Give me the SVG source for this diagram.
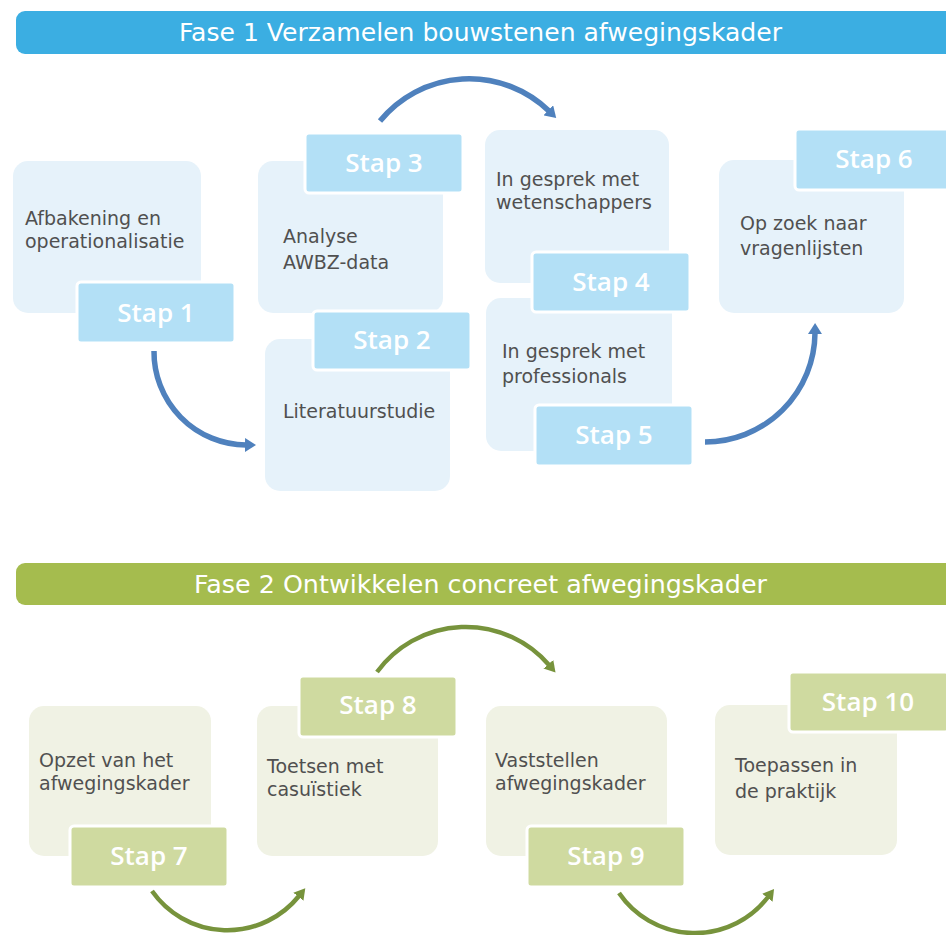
<svg xmlns="http://www.w3.org/2000/svg" width="946" height="935" viewBox="0 0 946 935">
<defs>
<style>
.hdr{font-family:"DejaVu Sans",Verdana,sans-serif;font-size:24px;fill:#ffffff;}
.body{font-family:"DejaVu Sans",Verdana,sans-serif;font-size:19px;fill:#505050;}
.lbl{font-family:"Open Sans","Liberation Sans",sans-serif;font-size:26px;font-weight:600;fill:#ffffff;text-anchor:middle;}
.b1{fill:#E6F2FA;}
.l1{fill:#B3E0F6;stroke:#ffffff;stroke-width:3;}
.b2{fill:#F0F2E4;}
.l2{fill:#CFDAA0;stroke:#ffffff;stroke-width:3;}
.a1{fill:none;stroke:#4F81BD;stroke-width:5.5;}
.a2{fill:none;stroke:#77933C;stroke-width:4.5;}
</style>
<marker id="hb" viewBox="0 0 11 14" markerWidth="11" markerHeight="14" markerUnits="userSpaceOnUse" refX="1" refY="7" orient="auto">
<path d="M0,0 L11,7 L0,14 z" fill="#4F81BD"/>
</marker>
<marker id="hg" viewBox="0 0 11 13" markerWidth="11" markerHeight="13" markerUnits="userSpaceOnUse" refX="1" refY="6.5" orient="auto">
<path d="M0,0 L11,6.5 L0,13 z" fill="#77933C"/>
</marker>
</defs>
<rect width="946" height="935" fill="#ffffff"/>

<g id="fase1">
<rect x="16" y="11" width="945" height="43" rx="9" fill="#3BAEE2"/>
<text class="hdr" x="179" y="41" textLength="603" lengthAdjust="spacingAndGlyphs">Fase 1 Verzamelen bouwstenen afwegingskader</text>
</g>
<g id="fase2">
<rect x="16" y="563" width="945" height="42" rx="9" fill="#A5BC4E"/>
<text class="hdr" x="194" y="593" textLength="573" lengthAdjust="spacingAndGlyphs">Fase 2 Ontwikkelen concreet afwegingskader</text>
</g>

<g id="connectors">
<path class="a1" d="M154,351 A93,93 0 0 0 246,445" marker-end="url(#hb)"/>
<path class="a1" d="M380,121 A115,115 0 0 1 549,111" marker-end="url(#hb)"/>
<path class="a1" d="M705,442 A110,110 0 0 0 815,333" marker-end="url(#hb)"/>
<path class="a2" d="M152,891 A92,92 0 0 0 299,896" marker-end="url(#hg)"/>
<path class="a2" d="M377,672 A110,110 0 0 1 549,665" marker-end="url(#hg)"/>
<path class="a2" d="M619,893 A92,92 0 0 0 768,897" marker-end="url(#hg)"/>
</g>

<g id="stap1">
<rect class="b1" x="13" y="161" width="188" height="152" rx="15"/>
<text class="body" x="25" y="225">Afbakening en</text>
<text class="body" x="25" y="248">operationalisatie</text>
<rect class="l1" x="77" y="282" width="158" height="61" rx="4"/>
<text class="lbl" x="156" y="322">Stap 1</text>
</g>

<g id="stap3">
<rect class="b1" x="258" y="161" width="185" height="152" rx="15"/>
<text class="body" x="283" y="243">Analyse</text>
<text class="body" x="283" y="269">AWBZ-data</text>
<rect class="l1" x="305" y="133" width="158" height="60" rx="4"/>
<text class="lbl" x="384" y="172">Stap 3</text>
</g>

<g id="stap2">
<rect class="b1" x="265" y="339" width="185" height="152" rx="15"/>
<text class="body" x="283" y="418">Literatuurstudie</text>
<rect class="l1" x="313" y="311" width="158" height="59" rx="4"/>
<text class="lbl" x="392" y="349">Stap 2</text>
</g>

<g id="stap4">
<rect class="b1" x="485" y="130" width="184" height="153" rx="15"/>
<text class="body" x="496" y="186">In gesprek met</text>
<text class="body" x="496" y="209">wetenschappers</text>
</g>

<g id="stap5">
<rect class="b1" x="486" y="298" width="186" height="153" rx="15"/>
<text class="body" x="502" y="358">In gesprek met</text>
<text class="body" x="502" y="383">professionals</text>
<rect class="l1" x="535" y="405" width="158" height="61" rx="4"/>
<text class="lbl" x="614" y="444">Stap 5</text>
</g>

<g id="stap4-label">
<rect class="l1" x="532" y="252" width="158" height="60" rx="4"/>
<text class="lbl" x="611" y="291">Stap 4</text>
</g>

<g id="stap6">
<rect class="b1" x="719" y="160" width="185" height="153" rx="15"/>
<text class="body" x="740" y="230">Op zoek naar</text>
<text class="body" x="740" y="255">vragenlijsten</text>
<rect class="l1" x="795" y="129" width="160" height="61" rx="4"/>
<text class="lbl" x="874" y="168">Stap 6</text>
</g>

<g id="stap7">
<rect class="b2" x="29" y="706" width="182" height="150" rx="15"/>
<text class="body" x="39" y="767">Opzet van het</text>
<text class="body" x="39" y="790">afwegingskader</text>
<rect class="l2" x="70" y="826" width="158" height="61" rx="4"/>
<text class="lbl" x="149" y="865">Stap 7</text>
</g>

<g id="stap8">
<rect class="b2" x="257" y="706" width="181" height="150" rx="15"/>
<text class="body" x="267" y="773">Toetsen met</text>
<text class="body" x="267" y="796">casuïstiek</text>
<rect class="l2" x="299" y="676" width="158" height="61" rx="4"/>
<text class="lbl" x="378" y="714">Stap 8</text>
</g>

<g id="stap9">
<rect class="b2" x="486" y="706" width="181" height="150" rx="15"/>
<text class="body" x="495" y="767">Vaststellen</text>
<text class="body" x="495" y="790">afwegingskader</text>
<rect class="l2" x="527" y="826" width="158" height="61" rx="4"/>
<text class="lbl" x="606" y="865">Stap 9</text>
</g>

<g id="stap10">
<rect class="b2" x="715" y="705" width="182" height="150" rx="15"/>
<text class="body" x="735" y="772">Toepassen in</text>
<text class="body" x="735" y="798">de praktijk</text>
<rect class="l2" x="789" y="672" width="160" height="60" rx="4"/>
<text class="lbl" x="868" y="711">Stap 10</text>
</g>
</svg>
